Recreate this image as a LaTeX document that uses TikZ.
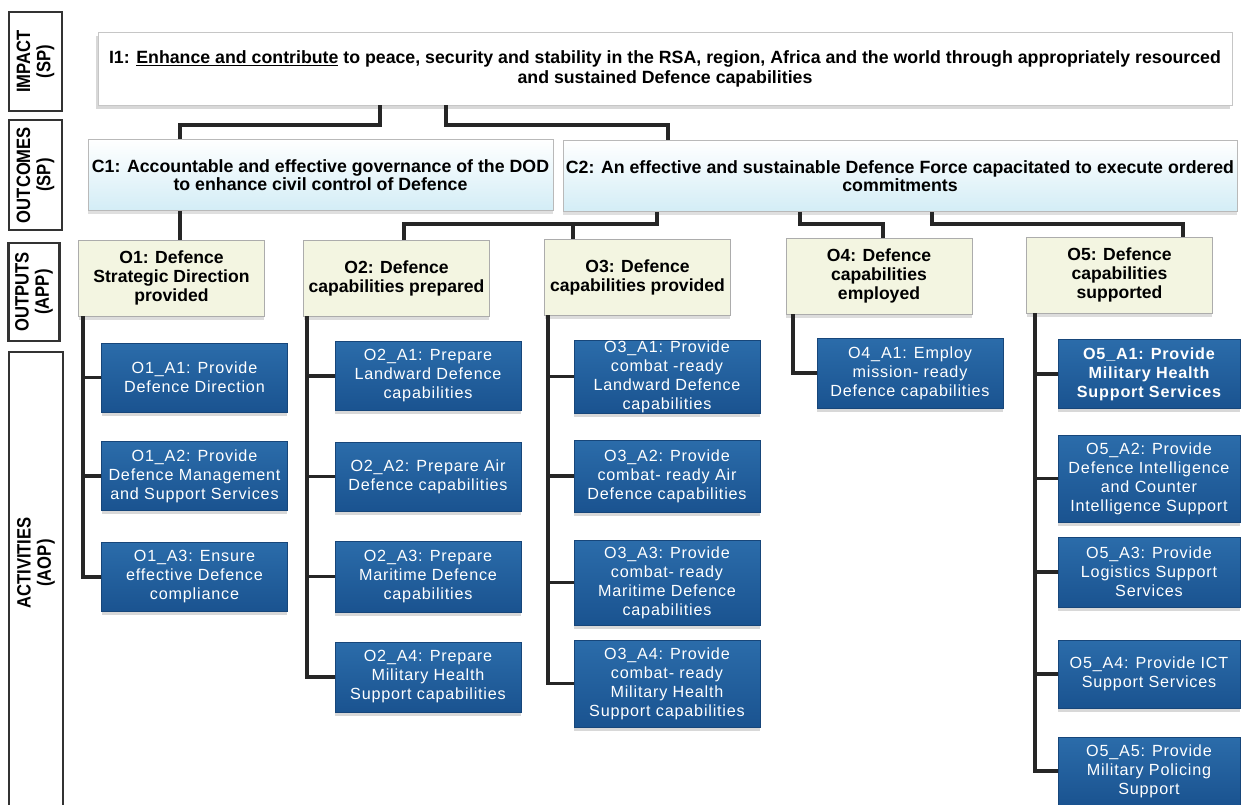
\documentclass[tikz,border=0pt]{standalone}
\usepackage{fontspec}
\setmainfont{Liberation Sans}
\newfontfamily\lblfont[FakeStretch=0.86]{Liberation Sans}
\newfontfamily\actfont[LetterSpace=5]{Liberation Sans}
\usepackage{tikz}
\usetikzlibrary{positioning}
\usetikzlibrary{shadows}
\usetikzlibrary{calc}

\definecolor{outcblue}{HTML}{D3EDF6}
\definecolor{outpfill}{HTML}{F3F5E1}
\definecolor{acttop}{HTML}{2B6CAA}
\definecolor{actbot}{HTML}{1A5390}
\definecolor{actedge}{HTML}{17467A}

\tikzset{
    conn/.style={line width=1.8pt, black!85},
    lblbox/.style={draw=black!80, line width=1.2pt, rotate=90, align=center, inner sep=0pt,
        font=\lblfont\bfseries\fontsize{11}{11.5}\selectfont},
    impbox/.style={draw=gray!45, fill=white, align=center, inner sep=0pt,
        drop shadow={shadow xshift=-1pt, shadow yshift=-2pt, fill=gray!60},
        font=\bfseries\fontsize{10.1}{11.3}\selectfont},
    outcbox/.style={draw=gray!55, top color=white, bottom color=outcblue, align=center, inner sep=0pt,
        minimum height=1.42cm, drop shadow={shadow xshift=0pt, shadow yshift=-2pt, fill=gray!50},
        font=\bfseries\fontsize{10.1}{10.2}\selectfont},
    outpbox/.style={draw=gray!65, fill=outpfill, align=center, inner sep=0pt,
        minimum width=3.72cm, minimum height=1.52cm,
        drop shadow={shadow xshift=0pt, shadow yshift=-2pt, fill=gray!55},
        font=\bfseries\fontsize{10}{10.8}\selectfont},
    actbox/.style={draw=actedge, top color=acttop, bottom color=actbot, text=white, align=center,
        inner sep=0pt, minimum width=3.72cm, minimum height=1.38cm,
        drop shadow={shadow xshift=0pt, shadow yshift=-2pt, fill=gray!60},
        font=\actfont\fontsize{9.2}{10.8}\selectfont}
}

\begin{document}
\begin{tikzpicture}[x=0.02cm, y=-0.02cm]
    \useasboundingbox (0,0) rectangle (1242,805);

    \node[lblbox, minimum width=1.98cm, minimum height=1.06cm] (limp) at (35.5,61.5) {IMPACT\\(SP)};
    \node[lblbox, minimum width=2.2cm, minimum height=1.06cm] (lout) at (35.5,175) {OUTCOMES\\(SP)};
    \node[lblbox, minimum width=1.96cm, minimum height=1.02cm] (lopt) at (34,292) {OUTPUTS\\(APP)};
    \draw[draw=black!80, line width=1.2pt] (9,805) |- (63,352) -- (63,805);
    \node[rotate=90, align=center, font=\lblfont\bfseries\fontsize{11}{11.5}\selectfont] (lact) at (36,563) {ACTIVITIES\\(AOP)};

    \node[impbox, minimum width=22.68cm, minimum height=1.46cm] (impact) at (665,68.5)
        {I1: \underline{Enhance and contribute} to peace, security and stability in the RSA, region, Africa and the world through appropriately resourced\\and sustained Defence capabilities};

    \node[outcbox, minimum width=9.3cm] (c1) at (320.5,175) {C1: Accountable and effective governance of the DOD\\to enhance civil control of Defence};
    \node[outcbox, minimum width=13.48cm] (c2) at (900,176) {C2: An effective and sustainable Defence Force capacitated to execute ordered\\commitments};

    \node[outpbox] (o1) at (171.5,278) {O1: Defence\\Strategic Direction\\provided};
    \node[outpbox] (o2) at (396.5,278) {O2: Defence\\capabilities prepared};
    \node[outpbox] (o3) at (637.5,277) {O3: Defence\\capabilities provided};
    \node[outpbox] (o4) at (879,276) {O4: Defence\\capabilities\\employed};
    \node[outpbox] (o5) at (1119.5,275) {O5: Defence\\capabilities\\supported};

    \node[actbox] (o1a1) at (194.5,377.5) {O1\_A1: Provide\\Defence Direction};
    \node[actbox] (o1a2) at (194.5,476) {O1\_A2: Provide\\Defence Management\\and Support Services};
    \node[actbox] (o1a3) at (194.5,577) {O1\_A3: Ensure\\effective Defence\\compliance};

    \node[actbox] (o2a1) at (428,376) {O2\_A1: Prepare\\Landward Defence\\capabilities};
    \node[actbox] (o2a2) at (428,476.5) {O2\_A2: Prepare Air\\Defence capabilities};
    \node[actbox, minimum height=1.42cm] (o2a3) at (428,576.5) {O2\_A3: Prepare\\Maritime Defence\\capabilities};
    \node[actbox, minimum height=1.4cm] (o2a4) at (428,677) {O2\_A4: Prepare\\Military Health\\Support capabilities};

    \node[actbox, minimum height=1.46cm] (o3a1) at (667,376.5) {O3\_A1: Provide\\combat -ready\\Landward Defence\\capabilities};
    \node[actbox, minimum height=1.44cm] (o3a2) at (667,476) {O3\_A2: Provide\\combat- ready Air\\Defence capabilities};
    \node[actbox, minimum height=1.7cm] (o3a3) at (667,582.5) {O3\_A3: Provide\\combat- ready\\Maritime Defence\\capabilities};
    \node[actbox, minimum height=1.74cm] (o3a4) at (667,683.5) {O3\_A4: Provide\\combat- ready\\Military Health\\Support capabilities};

    \node[actbox, minimum height=1.4cm] (o4a1) at (910,373) {O4\_A1: Employ\\mission- ready\\Defence capabilities};

    \node[actbox, minimum width=3.64cm, font=\actfont\bfseries\fontsize{9.2}{10.8}\selectfont] (o5a1) at (1149,374) {O5\_A1: Provide\\Military Health\\Support Services};
    \node[actbox, minimum width=3.64cm, minimum height=1.74cm] (o5a2) at (1149,478.5) {O5\_A2: Provide\\Defence Intelligence\\and Counter\\Intelligence Support};
    \node[actbox, minimum width=3.64cm, minimum height=1.4cm] (o5a3) at (1149,572) {O5\_A3: Provide\\Logistics Support\\Services};
    \node[actbox, minimum width=3.64cm, minimum height=1.36cm] (o5a4) at (1149,674) {O5\_A4: Provide ICT\\Support Services};
    \node[actbox, minimum width=3.64cm, minimum height=1.36cm] (o5a5) at (1149,771) {O5\_A5: Provide\\Military Policing\\Support};

    \draw[conn] (impact.south -| 380,0) -- (380,125) -| (c1.north -| 180,0);
    \draw[conn] (impact.south -| 446,0) -- (446,125) -| (c2.north -| 668,0);
    \draw[conn] (c1.south -| 180,0) -- (o1.north -| 180,0);
    \draw[conn] (c2.south -| 657,0) -- (657,224) -| (o2.north -| 404,0);
    \draw[conn] (573,224) -- (o3.north -| 573,0);
    \draw[conn] (c2.south -| 800,0) -- (800,224) -| (o4.north -| 883,0);
    \draw[conn] (c2.south -| 932,0) -- (932,224) -| (o5.north -| 1183,0);

    \draw[conn] (o1.south -| 83,0) |- (o1a3.west);
    \foreach \a in {o1a1,o1a2} \draw[conn] (\a.west -| 83,0) -- (\a.west);
    \draw[conn] (o2.south -| 307,0) |- (o2a4.west);
    \foreach \a in {o2a1,o2a2,o2a3} \draw[conn] (\a.west -| 307,0) -- (\a.west);
    \draw[conn] (o3.south -| 548,0) |- (o3a4.west);
    \foreach \a in {o3a1,o3a2,o3a3} \draw[conn] (\a.west -| 548,0) -- (\a.west);
    \draw[conn] (o4.south -| 793,0) |- (o4a1.west);
    \draw[conn] (o5.south -| 1035,0) |- (o5a5.west);
    \foreach \a in {o5a1,o5a2,o5a3,o5a4} \draw[conn] (\a.west -| 1035,0) -- (\a.west);
\end{tikzpicture}
\end{document}
